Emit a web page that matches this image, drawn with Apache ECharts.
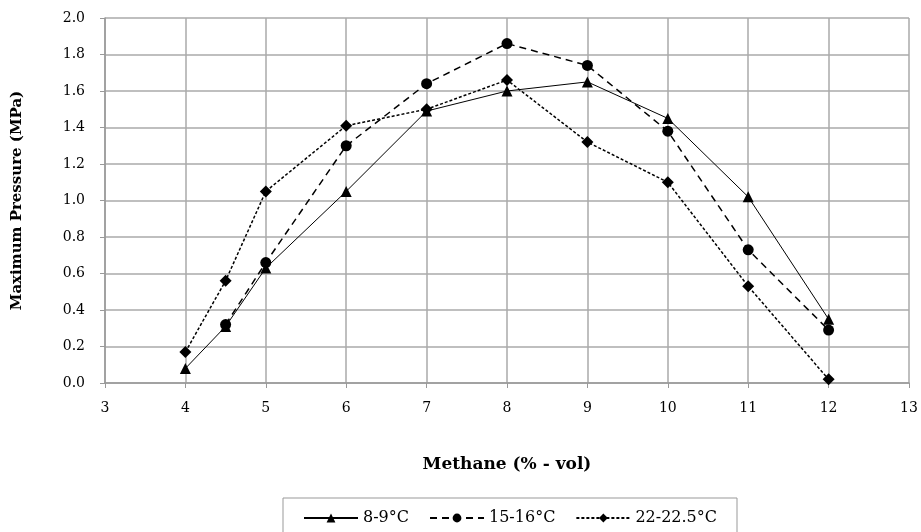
<!DOCTYPE html>
<html><head><meta charset="utf-8">
<script src="https://cdn.jsdelivr.net/npm/echarts@6/dist/echarts.min.js"></script>
<style>html,body{margin:0;padding:0;background:#fff}#c{width:921px;height:532px}</style>
</head><body><div id="c"></div>
<script>
const xs1 = [4, 4.5, 5, 6, 7, 8, 9, 10, 11, 12];
const s1 = [0.08, 0.31, 0.63, 1.05, 1.49, 1.60, 1.65, 1.45, 1.02, 0.35];
const xs2 = [4.5, 5, 6, 7, 8, 9, 10, 11, 12];
const s2 = [0.32, 0.66, 1.30, 1.64, 1.86, 1.74, 1.38, 0.73, 0.29];
const xs3 = [4, 4.5, 5, 6, 7, 8, 9, 10, 11, 12];
const s3 = [0.17, 0.56, 1.05, 1.41, 1.50, 1.66, 1.32, 1.10, 0.53, 0.02];
const names = ['8-9°C', '15-16°C', '22-22.5°C'];
const xTitle = 'Methane (% - vol)';
const yTitle = 'Maximum Pressure (MPa)';

const zip = (a, b) => a.map((v, i) => [v, b[i]]);
const font = 'DejaVu Serif';
const chart = echarts.init(document.getElementById('c'));
chart.setOption({
  animation: false,
  grid: {left: 105, right: 12, top: 18, bottom: 149},
  legend: {
    top: 498, left: 283,
    data: names,
    borderColor: '#999', borderWidth: 1, padding: [12, 20, 16, 20],
    itemWidth: 54, itemHeight: 11, itemGap: 20,
    textStyle: {fontFamily: font, fontSize: 16, color: '#000'}
  },
  xAxis: {
    type: 'value', min: 3, max: 13, interval: 1,
    name: xTitle, nameLocation: 'middle', nameGap: 73,
    nameTextStyle: {fontFamily: font, fontSize: 17, fontWeight: 'bold', color: '#000'},
    axisLine: {lineStyle: {color: '#999', width: 1.5}},
    axisTick: {show: true, length: 5, lineStyle: {color: '#999'}},
    axisLabel: {fontFamily: font, fontSize: 14, color: '#000', margin: 18},
    splitLine: {show: true, lineStyle: {color: '#aaa', width: 1.5}}
  },
  yAxis: {
    type: 'value', min: 0, max: 2, interval: 0.2,
    name: yTitle, nameLocation: 'middle', nameGap: 80,
    nameTextStyle: {fontFamily: font, fontSize: 15, fontWeight: 'bold', color: '#000'},
    axisLine: {show: true, lineStyle: {color: '#999', width: 1.5}},
    axisTick: {show: true, length: 5, lineStyle: {color: '#999'}},
    axisLabel: {fontFamily: font, fontSize: 14, color: '#000', margin: 20, formatter: v => v.toFixed(1)},
    splitLine: {show: true, lineStyle: {color: '#aaa', width: 1.5}}
  },
  series: [
    {name: names[0], type: 'line', data: zip(xs1, s1), symbol: 'triangle', symbolSize: 11,
     itemStyle: {color: '#000'}, lineStyle: {color: '#000', width: 1}},
    {name: names[1], type: 'line', data: zip(xs2, s2), symbol: 'circle', symbolSize: 11,
     itemStyle: {color: '#000'}, lineStyle: {color: '#000', width: 1.5, type: [7, 5]}},
    {name: names[2], type: 'line', data: zip(xs3, s3), symbol: 'diamond', symbolSize: 12,
     itemStyle: {color: '#000'}, lineStyle: {color: '#000', width: 1.5, type: [3, 2]}}
  ]
});
</script></body></html>
